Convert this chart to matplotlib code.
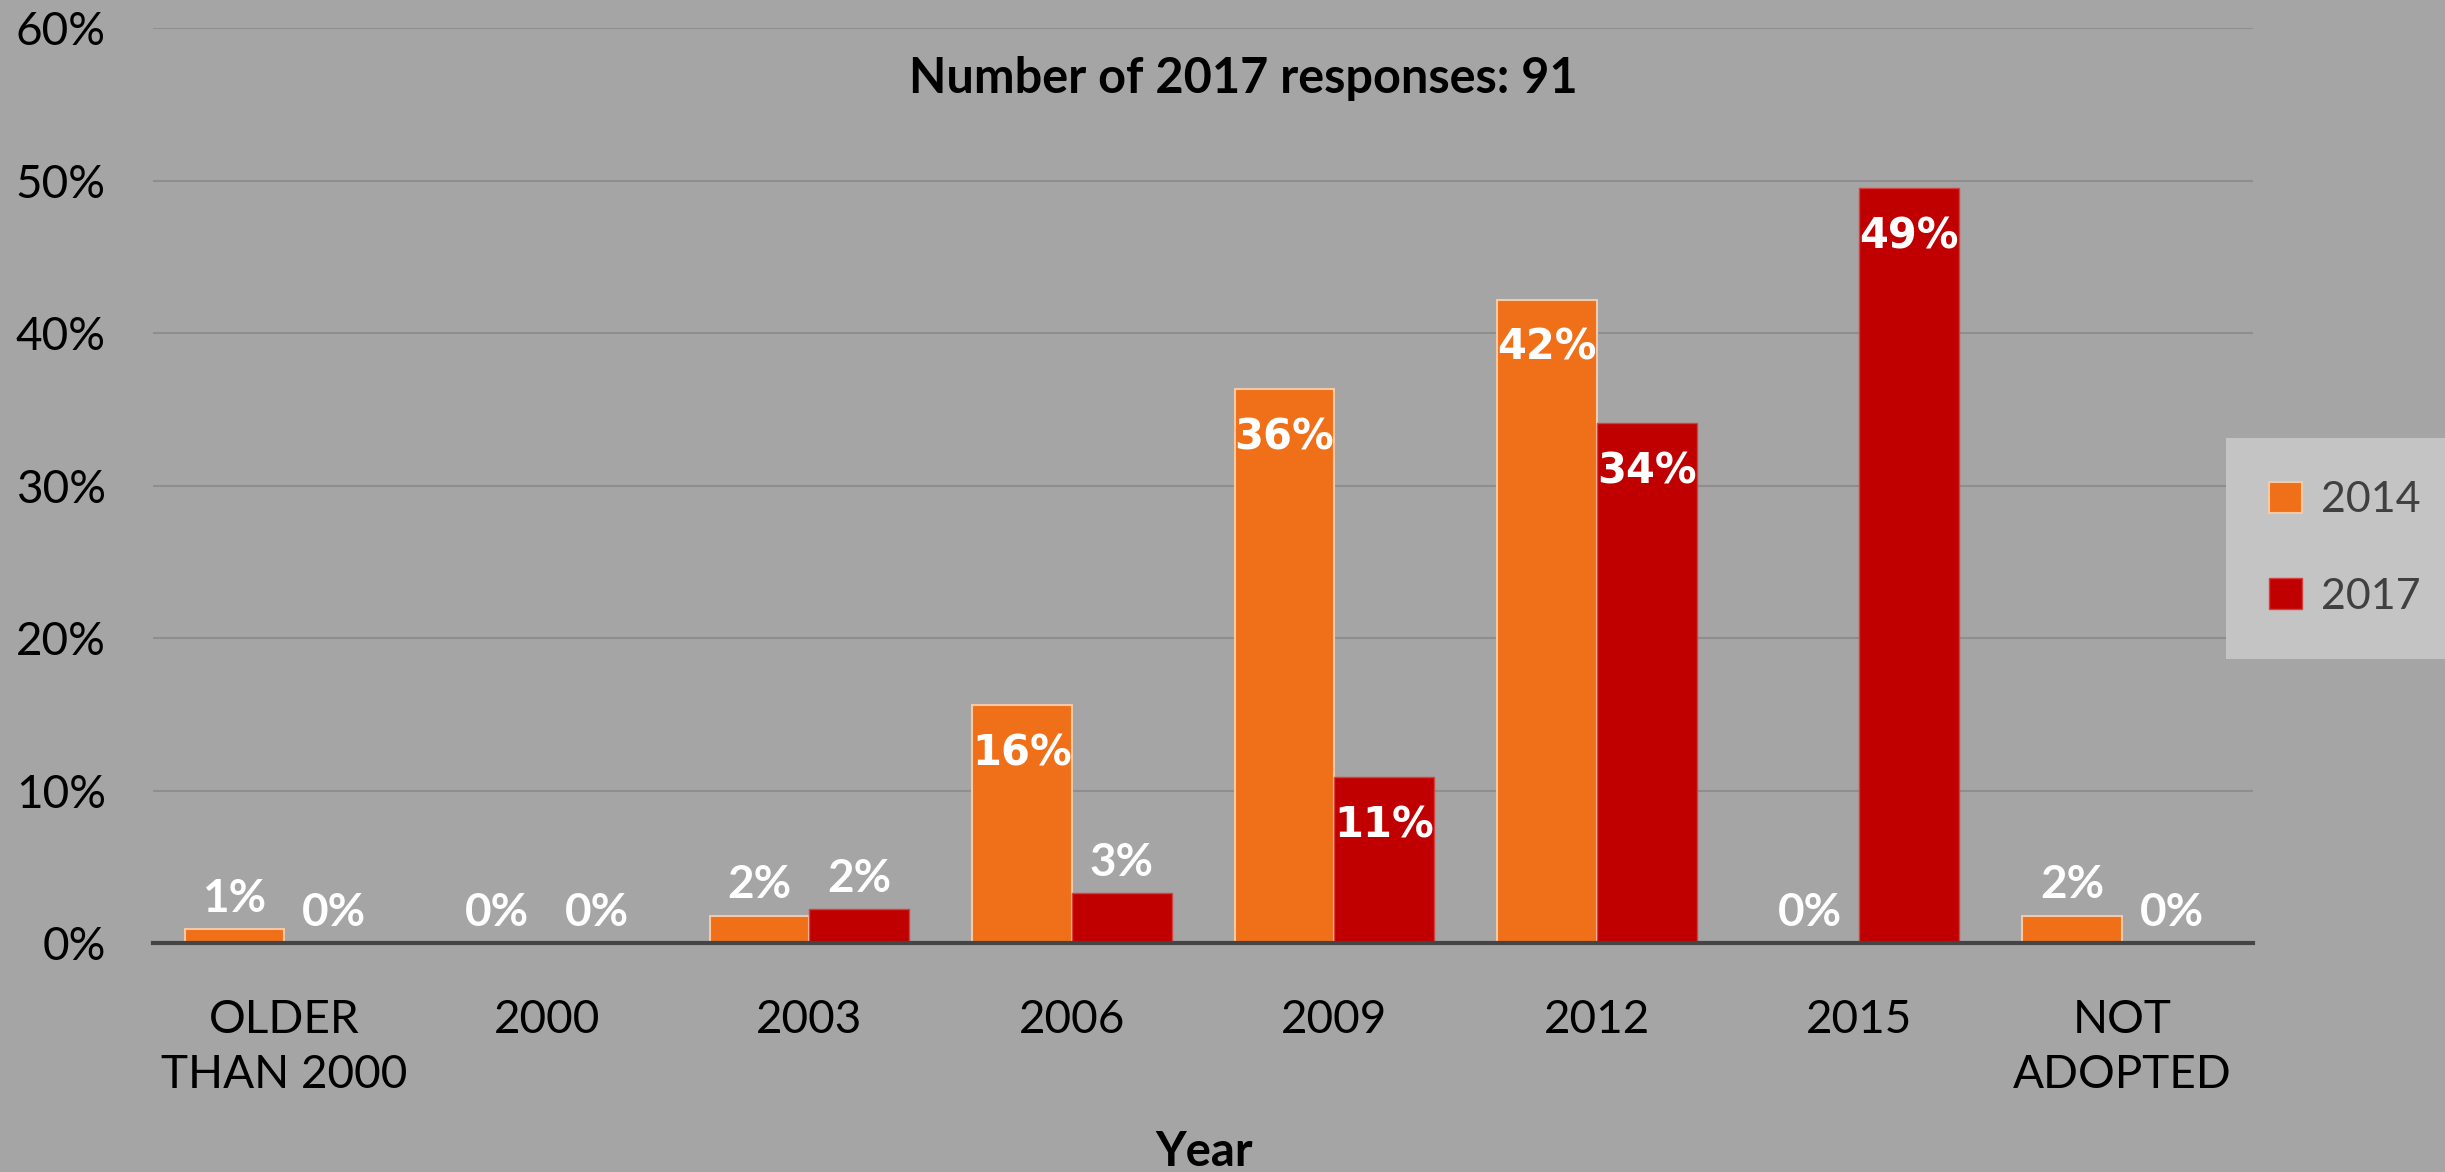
import matplotlib
matplotlib.use("Agg")
import matplotlib.pyplot as plt
import numpy as np

categories = ["OLDER\nTHAN 2000", "2000", "2003", "2006", "2009", "2012", "2015", "NOT\nADOPTED"]
series_names = ["2014", "2017"]
values_2014 = [0.9, 0.0, 1.8, 15.6, 36.3, 42.2, 0.0, 1.8]
labels_2014 = ["1%", "0%", "2%", "16%", "36%", "42%", "0%", "2%"]
values_2017 = [0.0, 0.0, 2.2, 3.3, 10.9, 34.1, 49.5, 0.0]
labels_2017 = ["0%", "0%", "2%", "3%", "11%", "34%", "49%", "0%"]
yticks = [0, 10, 20, 30, 40, 50, 60]
ytick_labels = ["0%", "10%", "20%", "30%", "40%", "50%", "60%"]
title = "Number of 2017 responses: 91"
xlabel = "Year"

BG = "#a5a5a5"
ORANGE = "#f07019"
RED = "#c00000"

fig = plt.figure(figsize=(24.45, 11.72), dpi=100, facecolor=BG)
ax = fig.add_axes([0.0626, 0.1954, 0.9215 - 0.0626, 0.976 - 0.1954])
ax.set_facecolor(BG)

x = np.arange(len(categories))
w = 0.38
b1 = ax.bar(x - w / 2, values_2014, w, color=ORANGE, edgecolor="#f6c9a6", linewidth=1.5, label=series_names[0], zorder=3)
b2 = ax.bar(x + w / 2, values_2017, w, color=RED, edgecolor="#d84040", linewidth=1.0, label=series_names[1], zorder=3)

ax.set_xlim(-0.5, len(categories) - 0.5)
ax.set_ylim(0, 60)
ax.set_yticks(yticks)
ax.set_yticklabels(ytick_labels)
ax.set_xticks(x)
ax.set_xticklabels(categories, linespacing=1.4)

for s in ["left", "right", "top"]:
    ax.spines[s].set_visible(False)
ax.spines["bottom"].set_color("#444444")
ax.spines["bottom"].set_linewidth(3)
ax.spines["bottom"].set_zorder(4)
ax.grid(axis="y", color="#8e8e8e", linewidth=1.5, zorder=1)
ax.tick_params(axis="both", length=0, labelsize=33, colors="black")
ax.tick_params(axis="y", pad=34)
ax.tick_params(axis="x", pad=40)
for lab in ax.get_xticklabels() + ax.get_yticklabels():
    lab.set_fontfamily("Lato")

def add_labels(bars, vals, labs):
    for rect, v, t in zip(bars, vals, labs):
        cx = rect.get_x() + rect.get_width() / 2
        if v >= 5:
            ax.text(cx, v - 1.8, t, ha="center", va="top", color="white",
                    fontsize=30, fontweight="bold", family="DejaVu Sans", zorder=5)
        else:
            ax.text(cx, v + 0.6, t, ha="center", va="bottom", color="white",
                    fontsize=33, fontweight="bold", family="Lato", zorder=5)

add_labels(b1, values_2014, labels_2014)
add_labels(b2, values_2017, labels_2017)

fig.text(0.5084, 0.933, title, ha="center", va="center", fontsize=35,
         fontweight="bold", family="Lato", color="black")
fig.text(0.4925, 0.017, xlabel, ha="center", va="center", fontsize=34,
         fontweight="bold", family="Lato", color="black")

leg = fig.legend(handles=[b1, b2], labels=series_names, loc="center left",
                 bbox_to_anchor=(0.9105, 0.532), frameon=True, fancybox=False,
                 facecolor="#c4c4c4", edgecolor="#c4c4c4", framealpha=1,
                 prop={"family": "Lato", "size": 31}, labelcolor="#404040",
                 handlelength=0.75, handleheight=0.75, handletextpad=0.45,
                 labelspacing=1.35, borderpad=1.0, borderaxespad=0)
leg.get_frame().set_linewidth(0)

fig.savefig("out.png", dpi=100, facecolor=BG)
